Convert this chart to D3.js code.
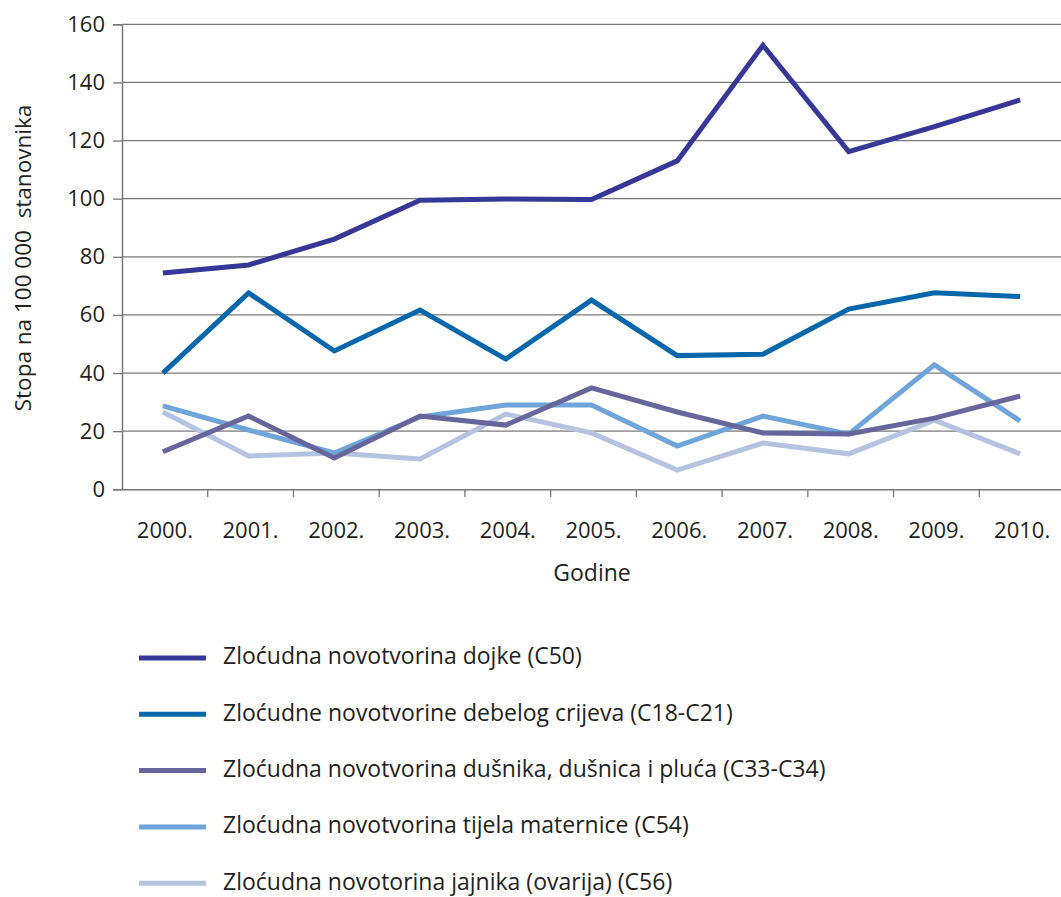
<!DOCTYPE html>
<html>
<head>
<meta charset="utf-8">
<script src="https://cdn.jsdelivr.net/npm/d3@7"></script>
<style>
  body { margin: 0; background: #fff; }
  text { font-family: "Open Sans", sans-serif; fill: #231f20; }
</style>
</head>
<body>
<div id="chart"></div>
<script>
var years = ["2000.", "2001.", "2002.", "2003.", "2004.", "2005.", "2006.", "2007.", "2008.", "2009.", "2010."];
var yTicks = [0, 20, 40, 60, 80, 100, 120, 140, 160];

var dojke = [74.4, 77.2, 86.1, 99.5, 99.9, 99.7, 113, 152.8, 116.2, 124.8, 134];
var debelo = [40, 67.6, 47.6, 61.7, 44.8, 65.1, 46, 46.5, 62, 67.6, 66.3];
var dusnik = [12.9, 25.2, 10.8, 25.2, 22.1, 34.9, 26.6, 19.4, 19, 24.5, 32.1];
var maternica = [28.7, 20.4, 12.5, 24.9, 29, 29, 14.9, 25.2, 19, 42.8, 23.5];
var jajnik = [26.6, 11.5, 12.5, 10.4, 25.9, 19.4, 6.6, 15.9, 12.2, 23.8, 12.2];

var seriesNames = [
  "Zloćudna novotvorina dojke (C50)",
  "Zloćudne novotvorine debelog crijeva (C18-C21)",
  "Zloćudna novotvorina dušnika, dušnica i pluća (C33-C34)",
  "Zloćudna novotvorina tijela maternice (C54)",
  "Zloćudna novotorina jajnika (ovarija) (C56)"
];
var seriesColors = ["#353896", "#0767AA", "#66669C", "#6FA5D9", "#B4C3E0"];

var series = [dojke, debelo, dusnik, maternica, jajnik].map(function(vals, i) {
  return { name: seriesNames[i], color: seriesColors[i], values: vals };
});

var svg = d3.select("#chart").append("svg")
  .attr("width", 1061)
  .attr("height", 897);

var x = d3.scaleBand().domain(years).range([122, 1065]);
var y = d3.scaleLinear().domain([0, 160]).range([489.3, 24.3]);

// gridlines
svg.append("g")
  .selectAll("line")
  .data(yTicks.filter(function(d) { return d > 0; }))
  .enter().append("line")
    .attr("x1", 122)
    .attr("x2", 1061)
    .attr("y1", function(d) { return y(d); })
    .attr("y2", function(d) { return y(d); })
    .attr("stroke", "#7a7a7a")
    .attr("stroke-width", 1.3);

// y axis
var yAxis = d3.axisLeft(y).tickValues(yTicks).tickSize(9).tickPadding(8);
var gy = svg.append("g")
  .attr("transform", "translate(122,0)")
  .call(yAxis);
gy.select(".domain").attr("stroke", "#777").attr("stroke-width", 1.5);
gy.selectAll(".tick line").attr("stroke", "#777").attr("stroke-width", 1.3);
gy.selectAll(".tick text").style("font-size", "22px").attr("fill", "#231f20");

// x axis
var xAxis = d3.axisBottom(x).tickSize(0).tickPadding(33);
var gx = svg.append("g")
  .attr("transform", "translate(0,489.3)")
  .call(xAxis);
gx.select(".domain").attr("stroke", "#777").attr("stroke-width", 1.5);
gx.selectAll(".tick text").style("font-size", "22px").attr("fill", "#231f20");

// x tick marks at band boundaries
svg.append("g")
  .selectAll("line")
  .data(years)
  .enter().append("line")
    .attr("x1", function(d) { return x(d) + x.bandwidth(); })
    .attr("x2", function(d) { return x(d) + x.bandwidth(); })
    .attr("y1", 489)
    .attr("y2", 497)
    .attr("stroke", "#777")
    .attr("stroke-width", 1.3);

// axis titles
svg.append("text")
  .attr("transform", "translate(31,258) rotate(-90)")
  .attr("text-anchor", "middle")
  .style("font-size", "22.5px")
  .style("white-space", "pre")
  .text("Stopa na 100 000  stanovnika");

svg.append("text")
  .attr("x", 592)
  .attr("y", 581)
  .attr("text-anchor", "middle")
  .style("font-size", "23px")
  .text("Godine");

// lines
var line = d3.line()
  .x(function(d, i) { return x(years[i]) + x.bandwidth() / 2 - 2; })
  .y(function(d) { return y(d); });

svg.append("g")
  .selectAll("path")
  .data(series.slice().reverse())
  .enter().append("path")
    .attr("d", function(d) { return line(d.values); })
    .attr("fill", "none")
    .attr("stroke", function(d) { return d.color; })
    .attr("stroke-width", 5)
    .attr("stroke-linejoin", "miter");

// legend
var legend = svg.append("g")
  .selectAll("g")
  .data(series)
  .enter().append("g")
    .attr("transform", function(d, i) { return "translate(139," + (658 + i * 56.3) + ")"; });

legend.append("line")
  .attr("x1", 0)
  .attr("x2", 67)
  .attr("stroke", function(d) { return d.color; })
  .attr("stroke-width", 5);

legend.append("text")
  .attr("x", 84)
  .attr("y", 0)
  .attr("dy", "0.28em")
  .style("font-size", "23px")
  .text(function(d) { return d.name; });
</script>
</body>
</html>
